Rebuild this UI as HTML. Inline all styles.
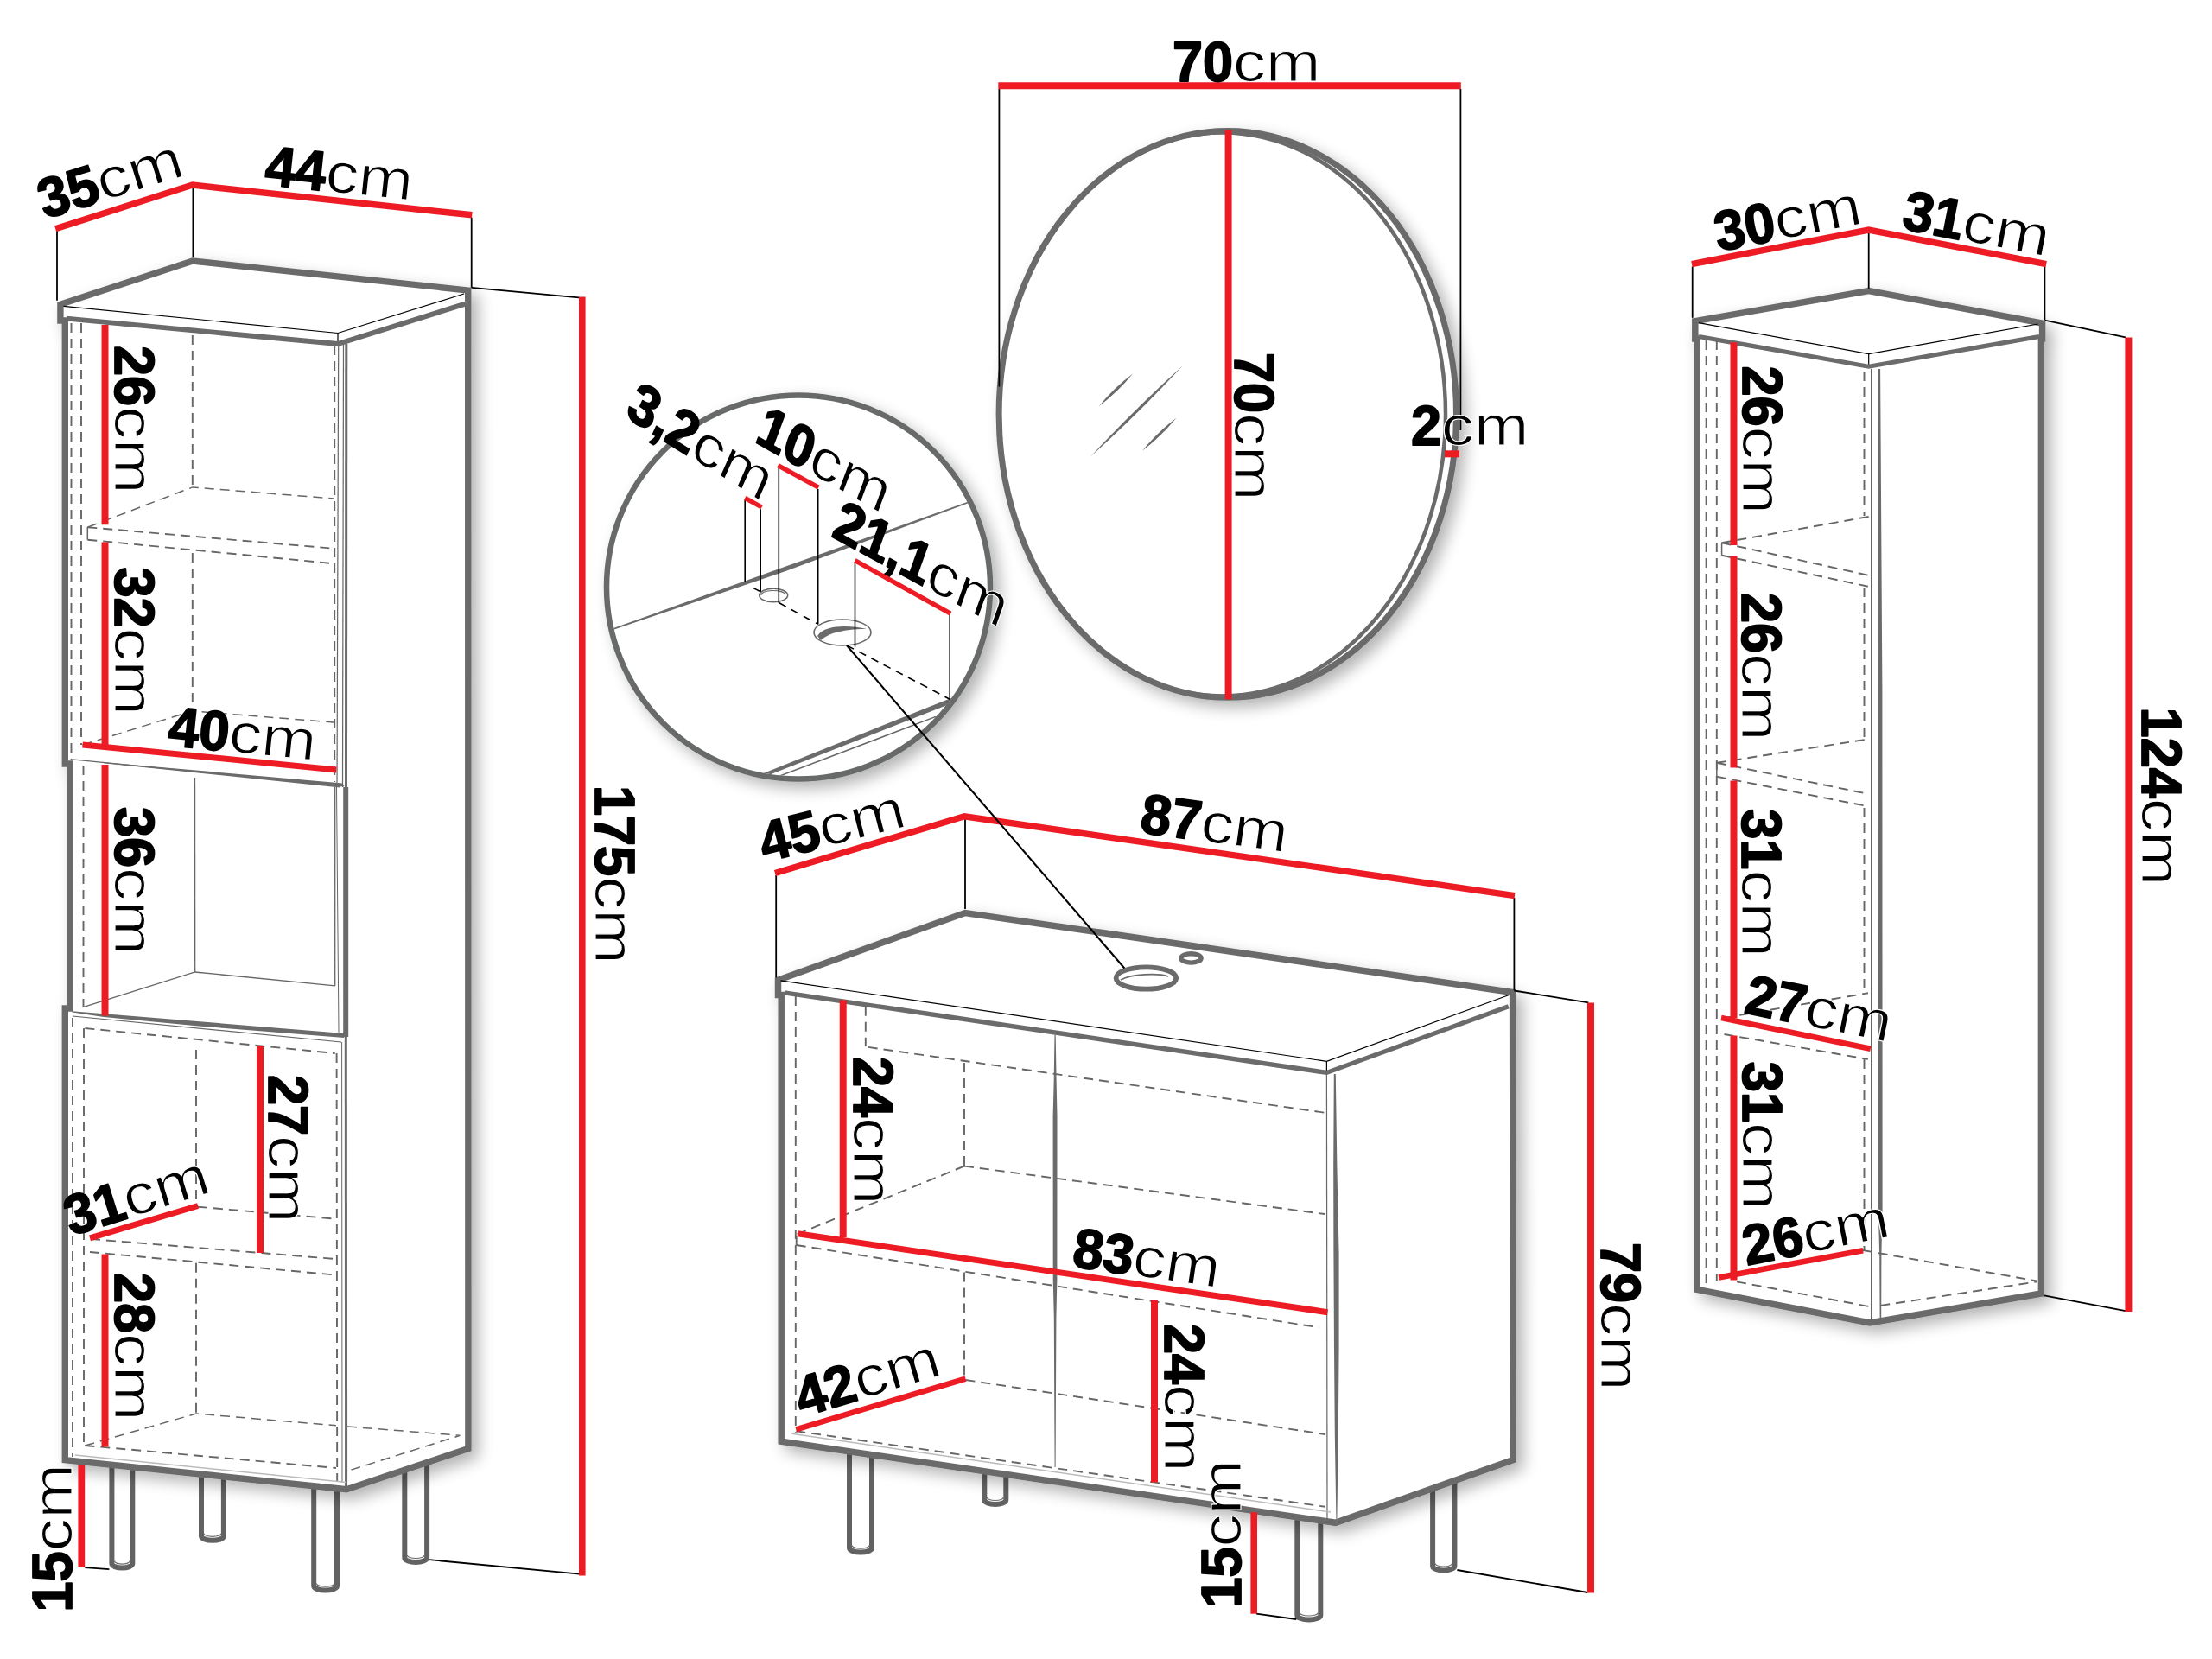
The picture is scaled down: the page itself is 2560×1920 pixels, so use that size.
<!DOCTYPE html><html><head><meta charset="utf-8"><title>Dimensions</title><style>html,body{margin:0;padding:0;background:#fff}svg{display:block}text{font-family:"Liberation Sans",sans-serif;fill:#000}.n{font-weight:700;stroke:#000;stroke-width:1.8px;stroke-linejoin:round}.u{font-weight:400;stroke:#fff;stroke-width:1.1px}</style></head><body>
<svg width="2560" height="1920" viewBox="0 0 2560 1920">
<defs><filter id="sh" x="-10%" y="-10%" width="130%" height="125%"><feGaussianBlur in="SourceAlpha" stdDeviation="9"/><feOffset dx="8" dy="8"/><feComponentTransfer><feFuncA type="linear" slope="0.3"/></feComponentTransfer><feMerge><feMergeNode/><feMergeNode in="SourceGraphic"/></feMerge></filter></defs>
<rect width="2560" height="1920" fill="#fff"/>
<g id="lc">
<path d="M129.4,1690 V1809.6 A11.950000000000003,5 0 0 0 153.3,1809.6 V1690" fill="#fff" stroke="#626262" stroke-width="6"/>
<path d="M132.4,1806.6 A8.950000000000003,3.5 0 0 0 150.3,1806.6" fill="none" stroke="#6b6b6b" stroke-width="1.2"/>
<path d="M233.0,1700 V1777.8 A12.949999999999989,5 0 0 0 258.9,1777.8 V1700" fill="#fff" stroke="#626262" stroke-width="6"/>
<path d="M236.0,1774.8 A9.949999999999989,3.5 0 0 0 255.89999999999998,1774.8" fill="none" stroke="#6b6b6b" stroke-width="1.2"/>
<path d="M363.2,1712 V1835.6 A13.400000000000006,5 0 0 0 390.0,1835.6 V1712" fill="#fff" stroke="#626262" stroke-width="6"/>
<path d="M366.2,1832.6 A10.400000000000006,3.5 0 0 0 387.0,1832.6" fill="none" stroke="#6b6b6b" stroke-width="1.2"/>
<path d="M468.3,1690 V1803.0 A12.900000000000006,5 0 0 0 494.1,1803.0 V1690" fill="#fff" stroke="#626262" stroke-width="6"/>
<path d="M471.3,1800.0 A9.900000000000006,3.5 0 0 0 491.1,1800.0" fill="none" stroke="#6b6b6b" stroke-width="1.2"/>
<polygon points="69.9,352.3 223,302 541.7,336 541.9,1676.6 401,1723.8 75.3,1689.6 75.3,1167 80.9,1167 80.9,884 75.3,884 75.3,371 69.9,371" fill="#fff" stroke="#6b6b6b" stroke-width="7.4" stroke-linejoin="miter" filter="url(#sh)"/>
<polyline points="73.5,354.3 391,385.5 537,340" fill="none" stroke="#000" stroke-width="1.2" stroke-linejoin="miter"/>
<line x1="391" y1="385.5" x2="391" y2="398" stroke="#000" stroke-width="1.2" stroke-linecap="butt"/>
<polyline points="77,368.6 391,398 538.5,351.6" fill="none" stroke="#6b6b6b" stroke-width="5.9" stroke-linejoin="miter"/>
<line x1="391.7" y1="400" x2="390" y2="911" stroke="#666" stroke-width="1.2" stroke-linecap="butt"/>
<line x1="397.5" y1="398" x2="396.5" y2="911" stroke="#666" stroke-width="1.2" stroke-linecap="butt"/>
<line x1="400.8" y1="398" x2="400.5" y2="911" stroke="#6b6b6b" stroke-width="3" stroke-linecap="butt"/>
<line x1="400.2" y1="911" x2="400.2" y2="1200" stroke="#6b6b6b" stroke-width="6" stroke-linecap="butt"/>
<line x1="400.3" y1="1200" x2="400.6" y2="1720" stroke="#6b6b6b" stroke-width="3" stroke-linecap="butt"/>
<line x1="395.6" y1="1206" x2="396" y2="1716" stroke="#666" stroke-width="1" stroke-linecap="butt"/>
<line x1="82.5" y1="374" x2="82.5" y2="880" stroke="#666" stroke-width="1.9" stroke-linecap="butt" stroke-dasharray="11 7"/>
<line x1="94" y1="374" x2="94" y2="862" stroke="#666" stroke-width="1.9" stroke-linecap="butt" stroke-dasharray="11 7"/>
<line x1="222.8" y1="388" x2="222.8" y2="564" stroke="#666" stroke-width="1.9" stroke-linecap="butt" stroke-dasharray="11 7"/>
<line x1="222.8" y1="640" x2="222.8" y2="823" stroke="#666" stroke-width="1.9" stroke-linecap="butt" stroke-dasharray="11 7"/>
<line x1="387.2" y1="400" x2="387.2" y2="905" stroke="#666" stroke-width="1.9" stroke-linecap="butt" stroke-dasharray="11 7"/>
<polyline points="101.3,610.2 222.8,563.9 386.3,577" fill="none" stroke="#666" stroke-width="1.5" stroke-linejoin="miter" stroke-dasharray="11 7"/>
<line x1="101.3" y1="610.2" x2="386.3" y2="634.8" stroke="#666" stroke-width="1.9" stroke-linecap="butt" stroke-dasharray="11 7"/>
<line x1="101.3" y1="624.7" x2="386.3" y2="652.2" stroke="#666" stroke-width="1.9" stroke-linecap="butt" stroke-dasharray="11 7"/>
<line x1="101.3" y1="610.2" x2="101.3" y2="624.7" stroke="#666" stroke-width="1.5" stroke-linecap="butt"/>
<polyline points="95.5,862 222.8,822.9 386.3,836" fill="none" stroke="#666" stroke-width="1.5" stroke-linejoin="miter" stroke-dasharray="11 7"/>
<line x1="83.5" y1="878.8" x2="398.2" y2="909.9" stroke="#666" stroke-width="1.3" stroke-linecap="butt"/>
<polygon points="119.7,882.2 396.6,906.4 393.5,911.4 119.7,883.2" fill="#6b6b6b"/>
<line x1="225.5" y1="900" x2="225.7" y2="1125" stroke="#666" stroke-width="1.3" stroke-linecap="butt"/>
<line x1="387.7" y1="911" x2="387.7" y2="1141" stroke="#666" stroke-width="1.3" stroke-linecap="butt"/>
<line x1="389.5" y1="911" x2="392" y2="1195" stroke="#666" stroke-width="1" stroke-linecap="butt"/>
<polyline points="96.9,1165.4 225.7,1125 387.7,1140.8" fill="none" stroke="#666" stroke-width="1.3" stroke-linejoin="miter"/>
<line x1="96.5" y1="886" x2="96.5" y2="1166" stroke="#666" stroke-width="1.9" stroke-linecap="butt" stroke-dasharray="11 7"/>
<polygon points="83.5,1170.2 398.2,1196 398.2,1201 230,1187.5 120,1177 83.5,1171.5" fill="#6b6b6b"/>
<line x1="84" y1="1176" x2="395" y2="1206" stroke="#666" stroke-width="1.2" stroke-linecap="butt"/>
<line x1="84" y1="1178" x2="84" y2="1686" stroke="#666" stroke-width="1.9" stroke-linecap="butt" stroke-dasharray="11 7"/>
<line x1="97" y1="1190" x2="97" y2="1673" stroke="#666" stroke-width="1.9" stroke-linecap="butt" stroke-dasharray="11 7"/>
<line x1="389.6" y1="1219" x2="390.2" y2="1714" stroke="#666" stroke-width="1.9" stroke-linecap="butt" stroke-dasharray="11 7"/>
<line x1="98.4" y1="1190" x2="387.7" y2="1219" stroke="#666" stroke-width="1.9" stroke-linecap="butt" stroke-dasharray="11 7"/>
<line x1="227" y1="1215" x2="227" y2="1394" stroke="#666" stroke-width="1.9" stroke-linecap="butt" stroke-dasharray="11 7"/>
<line x1="227" y1="1461.7" x2="227" y2="1636" stroke="#666" stroke-width="1.9" stroke-linecap="butt" stroke-dasharray="11 7"/>
<line x1="229" y1="1396.7" x2="387.7" y2="1410.6" stroke="#666" stroke-width="1.9" stroke-linecap="butt" stroke-dasharray="11 7"/>
<line x1="105" y1="1434" x2="387.7" y2="1457" stroke="#666" stroke-width="1.9" stroke-linecap="butt" stroke-dasharray="11 7"/>
<line x1="104" y1="1449" x2="387.7" y2="1475.5" stroke="#666" stroke-width="1.9" stroke-linecap="butt" stroke-dasharray="11 7"/>
<polyline points="98.4,1673 227,1636 389,1649.8" fill="none" stroke="#666" stroke-width="1.5" stroke-linejoin="miter" stroke-dasharray="11 7"/>
<line x1="98.4" y1="1673" x2="389" y2="1699" stroke="#666" stroke-width="1.9" stroke-linecap="butt" stroke-dasharray="11 7"/>
<polyline points="402,1651 532.4,1661.3 403.6,1702" fill="none" stroke="#666" stroke-width="1.5" stroke-linejoin="miter" stroke-dasharray="11 7"/>
<line x1="86.8" y1="1684" x2="400.8" y2="1715.5" stroke="#bbb" stroke-width="1.5" stroke-linecap="butt"/>
<line x1="66" y1="266" x2="66" y2="347.7" stroke="#000" stroke-width="1.8" stroke-linecap="butt"/>
<line x1="223.4" y1="217" x2="223.4" y2="298.2" stroke="#000" stroke-width="1.8" stroke-linecap="butt"/>
<line x1="545.7" y1="251.7" x2="545.7" y2="332.8" stroke="#000" stroke-width="1.8" stroke-linecap="butt"/>
<line x1="545.7" y1="332.8" x2="670" y2="344.3" stroke="#000" stroke-width="1.8" stroke-linecap="butt"/>
<line x1="497.1" y1="1805.2" x2="671" y2="1821.6" stroke="#000" stroke-width="1.8" stroke-linecap="butt"/>
<line x1="98.4" y1="1814.1" x2="126.4" y2="1816.1" stroke="#000" stroke-width="1.8" stroke-linecap="butt"/>
<polyline points="64.2,264.8 222.8,214.1 546.3,248.8" fill="none" stroke="#ed1c24" stroke-width="7.4" stroke-linejoin="miter"/>
<line x1="121.5" y1="376" x2="121.5" y2="607.3" stroke="#ed1c24" stroke-width="8" stroke-linecap="butt"/>
<line x1="121.5" y1="627.6" x2="121.5" y2="862" stroke="#ed1c24" stroke-width="8" stroke-linecap="butt"/>
<line x1="121.5" y1="885" x2="121.5" y2="1175.6" stroke="#ed1c24" stroke-width="8" stroke-linecap="butt"/>
<line x1="95.5" y1="862" x2="389.2" y2="890.9" stroke="#ed1c24" stroke-width="7" stroke-linecap="butt"/>
<line x1="301" y1="1210.3" x2="301" y2="1450" stroke="#ed1c24" stroke-width="8" stroke-linecap="butt"/>
<line x1="104" y1="1432.9" x2="229.1" y2="1395.5" stroke="#ed1c24" stroke-width="7" stroke-linecap="butt"/>
<line x1="121.5" y1="1451.6" x2="121.5" y2="1674.4" stroke="#ed1c24" stroke-width="8" stroke-linecap="butt"/>
<line x1="94.3" y1="1696" x2="94.3" y2="1814.1" stroke="#ed1c24" stroke-width="7.8" stroke-linecap="butt"/>
<line x1="673.8" y1="343.5" x2="673.8" y2="1823.5" stroke="#ed1c24" stroke-width="7.6" stroke-linecap="butt"/>
<g transform="translate(52,253.5) rotate(-17.2)"><text class="n" font-size="65" transform="scale(0.97,1)">35</text><text class="u" font-size="65" transform="translate(70.1,0) scale(1.17,1)">cm</text></g>
<g transform="translate(305.3,213.5) rotate(6.1)"><text class="n" font-size="65" transform="scale(0.97,1)">44</text><text class="u" font-size="65" transform="translate(70.1,0) scale(1.17,1)">cm</text></g>
<g transform="translate(132.5,400) rotate(90)"><text class="n" font-size="65" transform="scale(0.97,1)">26</text><text class="u" font-size="65" transform="translate(70.1,0) scale(1.17,1)">cm</text></g>
<g transform="translate(132.5,656.5) rotate(90)"><text class="n" font-size="65" transform="scale(0.97,1)">32</text><text class="u" font-size="65" transform="translate(70.1,0) scale(1.17,1)">cm</text></g>
<g transform="translate(193.5,862.5) rotate(5.8)"><text class="n" font-size="65" transform="scale(0.97,1)">40</text><text class="u" font-size="65" transform="translate(70.1,0) scale(1.17,1)">cm</text></g>
<g transform="translate(132.5,934) rotate(90)"><text class="n" font-size="65" transform="scale(0.97,1)">36</text><text class="u" font-size="65" transform="translate(70.1,0) scale(1.17,1)">cm</text></g>
<g transform="translate(311,1244) rotate(90)"><text class="n" font-size="65" transform="scale(0.97,1)">27</text><text class="u" font-size="65" transform="translate(70.1,0) scale(1.17,1)">cm</text></g>
<g transform="translate(82.5,1430.5) rotate(-17.4)"><text class="n" font-size="65" transform="scale(0.97,1)">31</text><text class="u" font-size="65" transform="translate(70.1,0) scale(1.17,1)">cm</text></g>
<g transform="translate(132.5,1473) rotate(90)"><text class="n" font-size="65" transform="scale(0.97,1)">28</text><text class="u" font-size="65" transform="translate(70.1,0) scale(1.17,1)">cm</text></g>
<g transform="translate(82.5,1865.5) rotate(-90)"><text class="n" font-size="65" transform="scale(0.97,1)">15</text><text class="u" font-size="65" transform="translate(70.1,0) scale(1.17,1)">cm</text></g>
<g transform="translate(688.8,909) rotate(90)"><text class="n" font-size="65" transform="scale(0.97,1)">175</text><text class="u" font-size="65" transform="translate(105.2,0) scale(1.17,1)">cm</text></g>
</g>
<g id="dc">
<circle cx="924" cy="679.5" r="222" fill="#fff" stroke="#676b6a" stroke-width="6.5" filter="url(#sh)"/>
<clipPath id="cc"><circle cx="924" cy="679.5" r="219"/></clipPath><g clip-path="url(#cc)">
<polygon points="705,728.8 910,655.3 1120,580.8 1120,582.5 910,660.8 705,730.6" fill="#6b6b6b"/>
<polygon points="866,902 1100.5,808 1102.5,813.5 877,902" fill="#6b6b6b"/>
<line x1="894.6" y1="901" x2="1083" y2="829.4" stroke="#666" stroke-width="1.5" stroke-linecap="butt"/>
</g>
<ellipse cx="895.2" cy="689" rx="16.5" ry="7.8" fill="#fff" stroke="#666" stroke-width="1.5"/>
<path d="M881,689 A14,5 0 0 1 909,688" fill="none" stroke="#666" stroke-width="1.2"/>
<ellipse cx="975" cy="732" rx="33" ry="15" fill="#fff" stroke="#666" stroke-width="1.6"/>
<path d="M946,736 C955,722 985,724 1003,728 C985,728 962,730 950,741 Z" fill="#6b6b6b"/>
<line x1="862.2" y1="578.6" x2="862.2" y2="674" stroke="#000" stroke-width="1.6" stroke-linecap="butt"/>
<line x1="880.2" y1="589.3" x2="880.2" y2="684.8" stroke="#000" stroke-width="1.6" stroke-linecap="butt"/>
<line x1="901.3" y1="541" x2="901.3" y2="697.8" stroke="#000" stroke-width="1.6" stroke-linecap="butt"/>
<line x1="946.7" y1="566" x2="946.7" y2="722.4" stroke="#000" stroke-width="1.6" stroke-linecap="butt"/>
<line x1="989.5" y1="650" x2="989.5" y2="748.4" stroke="#000" stroke-width="1.6" stroke-linecap="butt"/>
<line x1="1099.2" y1="711.7" x2="1099.2" y2="809.2" stroke="#000" stroke-width="1.6" stroke-linecap="butt"/>
<line x1="871.5" y1="680.4" x2="880.2" y2="684.8" stroke="#000" stroke-width="1.6" stroke-linecap="butt"/>
<line x1="901.9" y1="697.8" x2="946.7" y2="722.4" stroke="#000" stroke-width="1.6" stroke-linecap="butt" stroke-dasharray="9 7"/>
<line x1="980" y1="747" x2="1099.2" y2="809.2" stroke="#000" stroke-width="1.6" stroke-linecap="butt" stroke-dasharray="9 7"/>
<g transform="translate(722.2,481.3) rotate(32) skewX(8)"><text class="n" font-size="65" transform="scale(0.97,1)">3,2</text><text class="u" font-size="65" transform="translate(87.6,0) scale(1.17,1)">cm</text></g>
<g transform="translate(872,510.5) rotate(29.5) skewX(9)"><text class="n" font-size="65" transform="scale(0.97,1)">10</text><text class="u" font-size="65" transform="translate(70.1,0) scale(1.17,1)">cm</text></g>
<g transform="translate(961,620) rotate(28.6) skewX(9)"><text class="n" font-size="65" transform="scale(0.97,1)">21,1</text><text class="u" font-size="65" transform="translate(122.7,0) scale(1.17,1)">cm</text></g>
<line x1="862.2" y1="576.3" x2="881.6" y2="587" stroke="#ed1c24" stroke-width="5.4" stroke-linecap="butt"/>
<line x1="900.4" y1="538.6" x2="947.3" y2="564.1" stroke="#ed1c24" stroke-width="5.4" stroke-linecap="butt"/>
<line x1="989.5" y1="648.6" x2="1100.1" y2="710.2" stroke="#ed1c24" stroke-width="5.4" stroke-linecap="butt"/>
</g>
<g id="mr">
<ellipse cx="1420.8" cy="479.4" rx="264.7" ry="327.9" fill="#fff" stroke="#6b6b6b" stroke-width="7" filter="url(#sh)"/>
<ellipse cx="1414.5" cy="479.4" rx="258.5" ry="326" fill="none" stroke="#6b6b6b" stroke-width="4.5"/>
<path d="M1271.9,470 Q1293.8034322089918,453.7038453165755 1311,432.5 Q1289.0965677910083,448.7961546834245 1271.9,470Z" fill="#6b6b6b"/>
<path d="M1262,528.6 Q1317.6393546054644,478.41888085058895 1368.5,423.4 Q1312.8606453945356,473.58111914941105 1262,528.6Z" fill="#6b6b6b"/>
<path d="M1322.3,521.4 Q1344.2099450917137,504.99758230997367 1361.4,483.7 Q1339.490054908286,500.10241769002624 1322.3,521.4Z" fill="#6b6b6b"/>
<line x1="1156.4" y1="103" x2="1156.4" y2="447.6" stroke="#000" stroke-width="1.8" stroke-linecap="butt"/>
<line x1="1690.4" y1="103" x2="1690.4" y2="498" stroke="#000" stroke-width="1.8" stroke-linecap="butt"/>
<line x1="1155.3" y1="99.3" x2="1690.8" y2="99.3" stroke="#ed1c24" stroke-width="8" stroke-linecap="butt"/>
<line x1="1421.6" y1="150.4" x2="1421.6" y2="809.5" stroke="#ed1c24" stroke-width="8" stroke-linecap="butt"/>
<line x1="1672" y1="525.3" x2="1689" y2="525.3" stroke="#ed1c24" stroke-width="8" stroke-linecap="butt"/>
<g transform="translate(1357,93.7) rotate(0)"><text class="n" font-size="65" transform="scale(0.97,1)">70</text><text class="u" font-size="65" transform="translate(70.1,0) scale(1.17,1)">cm</text></g>
<g transform="translate(1429.4,408) rotate(90)"><text class="n" font-size="65" transform="scale(0.97,1)">70</text><text class="u" font-size="65" transform="translate(70.1,0) scale(1.17,1)">cm</text></g>
<g transform="translate(1633,514.6) rotate(0)"><text class="n" font-size="65" transform="scale(0.97,1)">2</text><text class="u" font-size="65" transform="translate(35.1,0) scale(1.17,1)">cm</text></g>
</g>
<g id="wc">
<path d="M983.0,1675 V1791.6 A13.0,5 0 0 0 1009.0,1791.6 V1675" fill="#fff" stroke="#626262" stroke-width="6"/>
<path d="M986.0,1788.6 A10.0,3.5 0 0 0 1006.0,1788.6" fill="none" stroke="#6b6b6b" stroke-width="1.2"/>
<path d="M1139.3,1695 V1736.0 A12.5,5 0 0 0 1164.3,1736.0 V1695" fill="#fff" stroke="#626262" stroke-width="6"/>
<path d="M1142.3,1733.0 A9.5,3.5 0 0 0 1161.3,1733.0" fill="none" stroke="#6b6b6b" stroke-width="1.2"/>
<path d="M1501.3,1745 V1869.5 A13.5,5 0 0 0 1528.3,1869.5 V1745" fill="#fff" stroke="#626262" stroke-width="6"/>
<path d="M1504.3,1866.5 A10.5,3.5 0 0 0 1525.3,1866.5" fill="none" stroke="#6b6b6b" stroke-width="1.2"/>
<path d="M1658.1,1700 V1812.5 A12.650000000000091,5 0 0 0 1683.4,1812.5 V1700" fill="#fff" stroke="#626262" stroke-width="6"/>
<path d="M1661.1,1809.5 A9.650000000000091,3.5 0 0 0 1680.4,1809.5" fill="none" stroke="#6b6b6b" stroke-width="1.2"/>
<polygon points="900.5,1134.2 1117,1056.5 1750.6,1148.5 1751.2,1689.5 1545.8,1762.3 904.2,1668.3 904.2,1151.5 900.5,1151.5" fill="#fff" stroke="#6b6b6b" stroke-width="7.5" stroke-linejoin="miter" filter="url(#sh)"/>
<polyline points="903.5,1134.8 1535.4,1228.4 1745.8,1151.7" fill="none" stroke="#000" stroke-width="1.2" stroke-linejoin="miter"/>
<line x1="1535.4" y1="1228.4" x2="1535.4" y2="1241.4" stroke="#000" stroke-width="1.2" stroke-linecap="butt"/>
<polyline points="907.7,1148.8 1535.4,1241.4 1745.8,1164.8" fill="none" stroke="#6b6b6b" stroke-width="5.3" stroke-linejoin="miter"/>
<ellipse cx="1326.4" cy="1132" rx="34.8" ry="12.6" fill="#fff" stroke="#6b6b6b" stroke-width="5.8"/>
<path d="M1297,1134 C1310,1127 1340,1126 1352,1130" fill="none" stroke="#6b6b6b" stroke-width="1.6"/>
<ellipse cx="1378.5" cy="1108.9" rx="11.6" ry="5.2" fill="#fff" stroke="#6b6b6b" stroke-width="5.4"/>
<line x1="1535.4" y1="1241.4" x2="1536" y2="1758" stroke="#666" stroke-width="1.2" stroke-linecap="butt"/>
<polygon points="1543.8,1243 1543.2,1350 1543.4,1450 1544,1560 1544.8,1660 1546.4,1758 1547.4,1758 1548.8,1660 1549.6,1560 1549.6,1450 1547.4,1350 1545.8,1243" fill="#6b6b6b"/>
<polygon points="1220.5,1198 1219.7,1250 1218.6,1292 1218.7,1480 1219.8,1525 1220.6,1698 1221.6,1698 1222.4,1525 1223.4,1480 1223.5,1292 1222.6,1250 1221.7,1198" fill="#6b6b6b"/>
<line x1="920.8" y1="1153" x2="920.8" y2="1657.8" stroke="#666" stroke-width="1.9" stroke-linecap="butt" stroke-dasharray="11 7"/>
<line x1="1001.8" y1="1164.8" x2="1001.8" y2="1211" stroke="#666" stroke-width="1.9" stroke-linecap="butt" stroke-dasharray="11 7"/>
<line x1="1004.7" y1="1211.9" x2="1533" y2="1287.7" stroke="#666" stroke-width="1.9" stroke-linecap="butt" stroke-dasharray="11 7"/>
<line x1="1116" y1="1229.9" x2="1116" y2="1349" stroke="#666" stroke-width="1.9" stroke-linecap="butt" stroke-dasharray="11 7"/>
<line x1="1116" y1="1349.6" x2="1533" y2="1405" stroke="#666" stroke-width="1.9" stroke-linecap="butt" stroke-dasharray="11 7"/>
<line x1="1116" y1="1349.6" x2="922.6" y2="1428.3" stroke="#666" stroke-width="1.9" stroke-linecap="butt" stroke-dasharray="11 7"/>
<line x1="921.7" y1="1430" x2="921.7" y2="1441" stroke="#666" stroke-width="1.9" stroke-linecap="butt"/>
<line x1="921.7" y1="1441" x2="1526.4" y2="1536.3" stroke="#666" stroke-width="1.9" stroke-linecap="butt" stroke-dasharray="11 7"/>
<line x1="1116" y1="1472.6" x2="1116" y2="1595.6" stroke="#666" stroke-width="1.9" stroke-linecap="butt" stroke-dasharray="11 7"/>
<line x1="1117.5" y1="1597" x2="1533.6" y2="1660" stroke="#666" stroke-width="1.9" stroke-linecap="butt" stroke-dasharray="11 7"/>
<line x1="921.3" y1="1656.3" x2="1533.6" y2="1743.8" stroke="#666" stroke-width="1.9" stroke-linecap="butt" stroke-dasharray="11 7"/>
<line x1="916.4" y1="1659.2" x2="1540" y2="1750" stroke="#bbb" stroke-width="1.5" stroke-linecap="butt"/>
<line x1="898.2" y1="1012.8" x2="898.2" y2="1131.5" stroke="#000" stroke-width="1.8" stroke-linecap="butt"/>
<line x1="1117" y1="947.7" x2="1117" y2="1052" stroke="#000" stroke-width="1.8" stroke-linecap="butt"/>
<line x1="1752.4" y1="1038.9" x2="1752.4" y2="1146" stroke="#000" stroke-width="1.8" stroke-linecap="butt"/>
<line x1="1752.4" y1="1146.5" x2="1838.4" y2="1160.4" stroke="#000" stroke-width="1.8" stroke-linecap="butt"/>
<line x1="1686.4" y1="1817" x2="1837.4" y2="1843" stroke="#000" stroke-width="1.8" stroke-linecap="butt"/>
<line x1="1454" y1="1867.7" x2="1500.3" y2="1874" stroke="#000" stroke-width="1.8" stroke-linecap="butt"/>
<polyline points="897,1010.5 1116.1,944.8 1753,1036.6" fill="none" stroke="#ed1c24" stroke-width="7.4" stroke-linejoin="miter"/>
<line x1="975.7" y1="1157.5" x2="975.7" y2="1432" stroke="#ed1c24" stroke-width="8" stroke-linecap="butt"/>
<line x1="923.1" y1="1427.7" x2="1536.5" y2="1518.7" stroke="#ed1c24" stroke-width="7" stroke-linecap="butt"/>
<line x1="921.3" y1="1654.3" x2="1117.5" y2="1595.6" stroke="#ed1c24" stroke-width="6.6" stroke-linecap="butt"/>
<line x1="1336" y1="1505" x2="1336" y2="1715.6" stroke="#ed1c24" stroke-width="8" stroke-linecap="butt"/>
<line x1="1451.2" y1="1750.2" x2="1451.2" y2="1867.7" stroke="#ed1c24" stroke-width="7.6" stroke-linecap="butt"/>
<line x1="1841" y1="1160.4" x2="1841" y2="1843.6" stroke="#ed1c24" stroke-width="8" stroke-linecap="butt"/>
<g transform="translate(885,998) rotate(-14.2)"><text class="n" font-size="65" transform="scale(0.97,1)">45</text><text class="u" font-size="65" transform="translate(70.1,0) scale(1.17,1)">cm</text></g>
<g transform="translate(1318,963) rotate(7.9)"><text class="n" font-size="65" transform="scale(0.97,1)">87</text><text class="u" font-size="65" transform="translate(70.1,0) scale(1.17,1)">cm</text></g>
<g transform="translate(987.9,1223) rotate(90)"><text class="n" font-size="65" transform="scale(0.97,1)">24</text><text class="u" font-size="65" transform="translate(70.1,0) scale(1.17,1)">cm</text></g>
<g transform="translate(1239.5,1465.4) rotate(8.3)"><text class="n" font-size="65" transform="scale(0.97,1)">83</text><text class="u" font-size="65" transform="translate(70.1,0) scale(1.17,1)">cm</text></g>
<g transform="translate(928,1640) rotate(-16.7)"><text class="n" font-size="65" transform="scale(0.97,1)">42</text><text class="u" font-size="65" transform="translate(70.1,0) scale(1.17,1)">cm</text></g>
<g transform="translate(1347.6,1532) rotate(90)"><text class="n" font-size="65" transform="scale(0.97,1)">24</text><text class="u" font-size="65" transform="translate(70.1,0) scale(1.17,1)">cm</text></g>
<g transform="translate(1435.8,1860.5) rotate(-90)"><text class="n" font-size="65" transform="scale(0.97,1)">15</text><text class="u" font-size="65" transform="translate(70.1,0) scale(1.17,1)">cm</text></g>
<g transform="translate(1853.3,1438) rotate(90)"><text class="n" font-size="65" transform="scale(0.97,1)">79</text><text class="u" font-size="65" transform="translate(70.1,0) scale(1.17,1)">cm</text></g>
<line x1="980" y1="747" x2="1301.3" y2="1120.5" stroke="#000" stroke-width="2.1" stroke-linecap="butt"/>
</g>
<g id="rc">
<polygon points="1961.8,371.6 2162.7,336.6 2363.6,374 2363.6,392 2362.4,392 2362.4,1497 2163.9,1531 1964.2,1492.5 1964.2,392 1961.8,392" fill="#fff" stroke="#6b6b6b" stroke-width="7.5" stroke-linejoin="miter" filter="url(#sh)"/>
<polyline points="1966,373.6 2162.7,409.6 2358.6,375" fill="none" stroke="#000" stroke-width="1.2" stroke-linejoin="miter"/>
<line x1="2162.7" y1="409.6" x2="2162.7" y2="423" stroke="#000" stroke-width="1.2" stroke-linecap="butt"/>
<polyline points="1966,389.5 2162.7,424.2 2360,389.5" fill="none" stroke="#6b6b6b" stroke-width="5.2" stroke-linejoin="miter"/>
<line x1="2165.6" y1="427" x2="2165.6" y2="1527" stroke="#666" stroke-width="1.2" stroke-linecap="butt"/>
<polygon points="2173.9,427 2173.6,800 2173.8,1400 2175.2,1452 2175.6,1525 2177.2,1525 2177.4,1452 2178.6,1400 2178.4,800 2176.1,427" fill="#6b6b6b"/>
<line x1="1974.6" y1="394" x2="1974.6" y2="1490" stroke="#666" stroke-width="1.9" stroke-linecap="butt" stroke-dasharray="11 7"/>
<line x1="1986.8" y1="394" x2="1986.8" y2="1482" stroke="#666" stroke-width="1.9" stroke-linecap="butt" stroke-dasharray="11 7"/>
<line x1="2157.5" y1="430" x2="2157.5" y2="597" stroke="#666" stroke-width="1.9" stroke-linecap="butt" stroke-dasharray="11 7"/>
<line x1="2157.5" y1="680" x2="2157.5" y2="855" stroke="#666" stroke-width="1.9" stroke-linecap="butt" stroke-dasharray="11 7"/>
<line x1="2157.5" y1="935" x2="2157.5" y2="1149" stroke="#666" stroke-width="1.9" stroke-linecap="butt" stroke-dasharray="11 7"/>
<line x1="2157.5" y1="1226" x2="2157.5" y2="1447" stroke="#666" stroke-width="1.9" stroke-linecap="butt" stroke-dasharray="11 7"/>
<line x1="1992.6" y1="628.2" x2="2162.7" y2="597.9" stroke="#666" stroke-width="1.9" stroke-linecap="butt" stroke-dasharray="11 7"/>
<line x1="1992.6" y1="628.2" x2="2162.7" y2="665.9" stroke="#666" stroke-width="1.9" stroke-linecap="butt" stroke-dasharray="11 7"/>
<line x1="1992.6" y1="642.7" x2="2162.7" y2="678.9" stroke="#666" stroke-width="1.9" stroke-linecap="butt" stroke-dasharray="11 7"/>
<line x1="1992.6" y1="628.2" x2="1992.6" y2="642.7" stroke="#666" stroke-width="1.5" stroke-linecap="butt"/>
<line x1="1986.8" y1="882.8" x2="2162.7" y2="855.3" stroke="#666" stroke-width="1.9" stroke-linecap="butt" stroke-dasharray="11 7"/>
<line x1="1986.8" y1="882.8" x2="2162.7" y2="919" stroke="#666" stroke-width="1.9" stroke-linecap="butt" stroke-dasharray="11 7"/>
<line x1="1986.8" y1="898.7" x2="2162.7" y2="933.4" stroke="#666" stroke-width="1.9" stroke-linecap="butt" stroke-dasharray="11 7"/>
<line x1="1986.8" y1="882.8" x2="1986.8" y2="898.7" stroke="#666" stroke-width="1.5" stroke-linecap="butt"/>
<line x1="1995.5" y1="1178" x2="2161.9" y2="1149.2" stroke="#666" stroke-width="1.9" stroke-linecap="butt" stroke-dasharray="11 7"/>
<line x1="1995.5" y1="1197" x2="2161.9" y2="1225.9" stroke="#666" stroke-width="1.9" stroke-linecap="butt" stroke-dasharray="11 7"/>
<line x1="2010" y1="1483.4" x2="2164.8" y2="1512.3" stroke="#666" stroke-width="1.9" stroke-linecap="butt" stroke-dasharray="11 7"/>
<line x1="2176.3" y1="1510.9" x2="2357.2" y2="1483.4" stroke="#666" stroke-width="1.9" stroke-linecap="butt" stroke-dasharray="11 7"/>
<line x1="2156" y1="1447" x2="2357.2" y2="1482.5" stroke="#666" stroke-width="1.9" stroke-linecap="butt" stroke-dasharray="11 7"/>
<line x1="1958.7" y1="308.5" x2="1958.7" y2="367.8" stroke="#000" stroke-width="1.8" stroke-linecap="butt"/>
<line x1="2162.7" y1="269.4" x2="2162.7" y2="333.7" stroke="#000" stroke-width="1.8" stroke-linecap="butt"/>
<line x1="2366.4" y1="308.5" x2="2366.4" y2="370" stroke="#000" stroke-width="1.8" stroke-linecap="butt"/>
<line x1="2366.4" y1="370.7" x2="2459.9" y2="390.4" stroke="#000" stroke-width="1.8" stroke-linecap="butt"/>
<line x1="2365.9" y1="1499.3" x2="2459.9" y2="1517.2" stroke="#000" stroke-width="1.8" stroke-linecap="butt"/>
<polyline points="1957.9,305.6 2162.7,266 2368.2,305.6" fill="none" stroke="#ed1c24" stroke-width="7.4" stroke-linejoin="miter"/>
<line x1="2006.5" y1="396.2" x2="2006.5" y2="631" stroke="#ed1c24" stroke-width="8" stroke-linecap="butt"/>
<line x1="2006.5" y1="644" x2="2006.5" y2="888.6" stroke="#ed1c24" stroke-width="8" stroke-linecap="butt"/>
<line x1="2006.5" y1="903.6" x2="2006.5" y2="1178" stroke="#ed1c24" stroke-width="8" stroke-linecap="butt"/>
<line x1="2006.5" y1="1198.4" x2="2006.5" y2="1481.4" stroke="#ed1c24" stroke-width="8" stroke-linecap="butt"/>
<line x1="1992" y1="1178.1" x2="2164.8" y2="1213.7" stroke="#ed1c24" stroke-width="6.6" stroke-linecap="butt"/>
<line x1="1989.1" y1="1478.5" x2="2156.1" y2="1447.2" stroke="#ed1c24" stroke-width="6.6" stroke-linecap="butt"/>
<line x1="2463.4" y1="390.4" x2="2463.4" y2="1518.1" stroke="#ed1c24" stroke-width="8" stroke-linecap="butt"/>
<g transform="translate(1988.8,291) rotate(-10.95)"><text class="n" font-size="65" transform="scale(0.97,1)">30</text><text class="u" font-size="65" transform="translate(70.1,0) scale(1.17,1)">cm</text></g>
<g transform="translate(2199.5,264.3) rotate(10.9)"><text class="n" font-size="65" transform="scale(0.97,1)">31</text><text class="u" font-size="65" transform="translate(70.1,0) scale(1.17,1)">cm</text></g>
<g transform="translate(2017,423.5) rotate(90)"><text class="n" font-size="65" transform="scale(0.97,1)">26</text><text class="u" font-size="65" transform="translate(70.1,0) scale(1.17,1)">cm</text></g>
<g transform="translate(2016,686) rotate(90)"><text class="n" font-size="65" transform="scale(0.97,1)">26</text><text class="u" font-size="65" transform="translate(70.1,0) scale(1.17,1)">cm</text></g>
<g transform="translate(2016,936.3) rotate(90)"><text class="n" font-size="65" transform="scale(0.97,1)">31</text><text class="u" font-size="65" transform="translate(70.1,0) scale(1.17,1)">cm</text></g>
<g transform="translate(2017.1,1171.8) rotate(11.6)"><text class="n" font-size="65" transform="scale(0.97,1)">27</text><text class="u" font-size="65" transform="translate(70.1,0) scale(1.17,1)">cm</text></g>
<g transform="translate(2017.2,1228.8) rotate(90)"><text class="n" font-size="65" transform="scale(0.97,1)">31</text><text class="u" font-size="65" transform="translate(70.1,0) scale(1.17,1)">cm</text></g>
<g transform="translate(2021.5,1464.5) rotate(-11.3)"><text class="n" font-size="65" transform="scale(0.97,1)">26</text><text class="u" font-size="65" transform="translate(70.1,0) scale(1.17,1)">cm</text></g>
<g transform="translate(2478.7,818.6) rotate(90)"><text class="n" font-size="65" transform="scale(0.97,1)">124</text><text class="u" font-size="65" transform="translate(105.2,0) scale(1.17,1)">cm</text></g>
</g>
</svg></body></html>
